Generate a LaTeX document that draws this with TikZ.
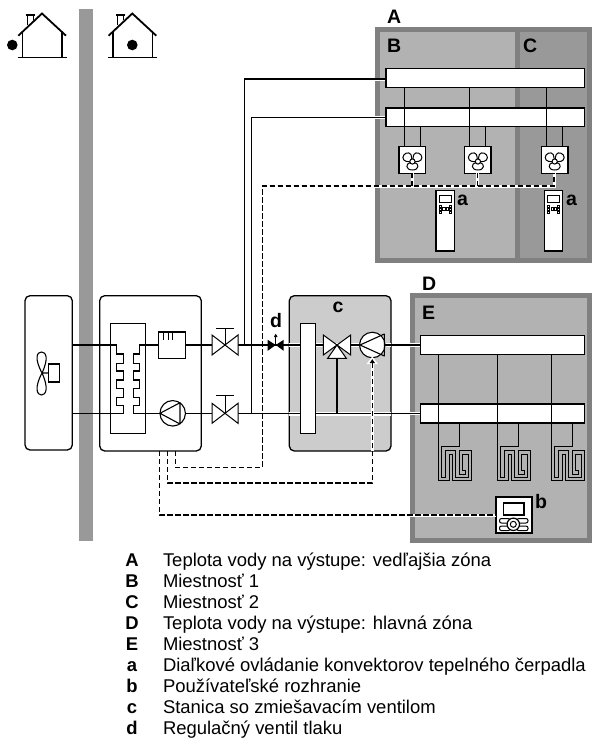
\documentclass[tikz,border=0pt]{standalone}
\usepackage{fontspec}
\setmainfont{Liberation Sans}
\usetikzlibrary{arrows.meta}
\definecolor{wallgray}{HTML}{999999}
\definecolor{edgegray}{HTML}{808080}
\definecolor{roomgray}{HTML}{B2B2B2}
\definecolor{roomdark}{HTML}{999999}
\definecolor{stationgray}{HTML}{CCCCCC}
\tikzset{
  pipe/.style={draw=black,line width=1.5pt},
  thin line/.style={draw=black,line width=1.3pt},
  halo/.style={draw=white,line width=3.4pt},
  signal/.style={draw=black,line width=1.4pt,dash pattern=on 5.2pt off 2.8pt},
  signal halo/.style={draw=white,line width=3pt},
  whitebox/.style={draw=black,fill=white,line width=1.3pt,inner sep=0pt,outer sep=0pt},
  unitbox/.style={draw=black,line width=1.3pt,rounded corners=5pt},
  big label/.style={inner sep=0pt,outer sep=0pt,anchor=base west,font=\fontsize{19.5}{20}\selectfont\bfseries},
  big mid/.style={big label,anchor=base},
  key letter/.style={inner sep=0pt,outer sep=0pt,anchor=base,font=\fontsize{18.45}{19}\selectfont\bfseries},
  key text/.style={inner sep=0pt,outer sep=0pt,anchor=base west,font=\fontsize{18.45}{19}\selectfont},
  valve/.style={draw=black,fill=white,line width=1pt,line join=miter}
}
% box by corners: name, x0, y0, x1, y1
\newcommand{\pxbox}[6][whitebox]{%
  \pgfmathsetmacro{\bw}{#5-#3}\pgfmathsetmacro{\bh}{#6-#4}%
  \node[#1,minimum width=\bw pt,minimum height=\bh pt,anchor=north west] (#2) at (#3,#4) {};}
\newcommand{\house}[1]{%
  \begin{scope}[shift={(#1,0)}]
    \draw[line width=1.2pt] (27.3,25) -- (27.3,15) (33.3,20) -- (33.3,15) (26,15) -- (34.7,15);
    \draw[line width=1.2pt] (22.7,31) -- (22.7,57.7) (62,31) -- (62,57.7);
    \draw[line width=1.2pt] (17.7,57.7) -- (66.7,57.7);
    \draw[line width=1.8pt] (18.3,35.7) -- (42,13.5) -- (66,35.7);
  \end{scope}}
\newcommand{\fanicon}[2]{%
  \begin{scope}[shift={(#1,#2)},line width=1pt]
    \draw[fill=white] (-0.5,-0.5) .. controls (-4,1) and (-9.5,0) .. (-9.5,-4) .. controls (-9.5,-8) and (-3.5,-10.5) .. (-1.5,-7) .. controls (-0.8,-5.5) and (-0.5,-3) .. (-0.5,-0.5);
    \draw[fill=white] (0.5,-0.5) .. controls (4,1) and (9.5,0) .. (9.5,-4) .. controls (9.5,-8) and (3.5,-10.5) .. (1.5,-7) .. controls (0.8,-5.5) and (0.5,-3) .. (0.5,-0.5);
    \draw[fill=white] (-2,1) .. controls (-7,2) and (-7,8.5) .. (0,8.5) .. controls (7,8.5) and (7,2) .. (2,1) -- cycle;
    \draw[fill=white] (0,0) circle (2.6);
  \end{scope}}
\newcommand{\remotea}[1]{%
  \begin{scope}[shift={(#1,0)},line width=0.9pt]
    \draw (439,195.5) rectangle (451.3,202.7);
    \foreach \yy in {205,208.2,211.4}{
      \draw (439,\yy) rectangle (441.3,\yy+2);
      \draw (449,\yy) rectangle (451.3,\yy+2);}
    \draw (442.8,207) rectangle (445,210.5);
    \draw (446,207) rectangle (448.2,210.5);
  \end{scope}}
\newcommand{\meander}[1]{%
  \begin{scope}[shift={(#1,0)}]
    \draw[line width=1.2pt,line join=miter] (0,354.3) -- (0,480.5) -- (11,480.5) -- (11,454.5) -- (14,454.5) -- (14,480.5) -- (33,480.5) -- (33,450.5) -- (21,450.5) -- (21,474.5) -- (27,474.5) -- (27,470.5) -- (24,470.5) -- (24,454.5) -- (30,454.5) -- (30,477.5) -- (17,477.5) -- (17,450.5) -- (7,450.5) -- (7,477.5) -- (3,477.5) -- (3,446.5) -- (21,446.5) -- (21,423);
  \end{scope}}
\begin{document}
\begin{tikzpicture}[x=1pt,y=-1pt]
\useasboundingbox (0,0) rectangle (592,739);
% wall
\fill[wallgray] (79,9) rectangle (93,541);
% houses
\house{0}
\house{90.3}
\fill (12.3,45) circle (5.3);
\fill (132.3,45) circle (5.3);
% room panels
\pxbox[fill=edgegray,inner sep=0pt,outer sep=0pt]{panelA}{375}{27}{592}{263}
\pxbox[fill=roomgray,inner sep=0pt,outer sep=0pt]{roomB}{380}{32}{515}{258}
\pxbox[fill=roomdark,inner sep=0pt,outer sep=0pt]{roomC}{520}{32}{587}{258}
\pxbox[fill=edgegray,inner sep=0pt,outer sep=0pt]{panelD}{410}{293}{592}{543}
\pxbox[fill=roomgray,inner sep=0pt,outer sep=0pt]{roomE}{415}{298}{587}{538}
% station and units
\pxbox[unitbox,fill=stationgray,inner sep=0pt,outer sep=0pt]{station}{289.3}{295.7}{391}{451}
\pxbox[unitbox,inner sep=0pt,outer sep=0pt]{outdoor}{25}{295.7}{72.3}{450}
\pxbox[unitbox,inner sep=0pt,outer sep=0pt]{indoor}{99.7}{295.7}{201.3}{451}
\pxbox[draw=black,line width=1.1pt,inner sep=0pt,outer sep=0pt]{hx}{110.7}{323.3}{145.7}{433.3}
% named points
\coordinate (V1) at (225,345);
\coordinate (V2) at (225,413.3);
\coordinate (DV) at (275.7,345);
\coordinate (MV) at (337,345);
\coordinate (PC) at (372.3,345);
\coordinate (PI) at (172.7,413.3);
% halos
\draw[halo] (375,79.5) -- (386,79.5) (375,117.5) -- (386,117.5);
\draw[halo] (410,345) -- (421,345) (410,413.3) -- (421,413.3);
\draw[halo] (289.3,345) -- (360,345) (385,345) -- (391,345);
\draw[halo] (289.3,413.8) -- (391,413.8);
% bars
\pxbox{barA1}{386}{68.7}{584.3}{87.3}
\pxbox{barA2}{386}{108}{584.3}{126.7}
\pxbox{barE1}{420.7}{335.3}{584.3}{354.3}
\pxbox{barE2}{420.7}{404}{584.3}{423}
\pxbox{mixbar}{300.3}{323.3}{315.7}{433.3}
% fan coils
\pxbox{fan1}{399}{146.7}{425.7}{173.3}
\pxbox{fan2}{464.7}{146.7}{491}{173.3}
\pxbox{fan3}{541.3}{146.7}{568}{173.3}
\fanicon{412.4}{161.5}
\fanicon{477.9}{161.5}
\fanicon{554.7}{161.5}
% fan coil pipes
\draw[thin line] (404.5,87.3) -- (404.5,146.7) (469.5,87.3) -- (469.5,146.7) (546.5,87.3) -- (546.5,146.7);
\draw[thin line] (420.5,126.7) -- (420.5,146.7) (485.5,126.7) -- (485.5,146.7) (562.5,126.7) -- (562.5,146.7);
% remote a
\pxbox{rema1}{436}{190.7}{454.3}{251}
\pxbox{rema2}{544.3}{190.7}{562.6}{251}
\remotea{0}
\remotea{108.3}
% floor loops
\meander{438.5}
\meander{497.5}
\meander{551.5}
% remote b
\pxbox{remb}{496}{497}{532}{533}
\draw[line width=1.2pt] (503.3,503) rectangle (524,515);
\draw[line width=1pt,rounded corners=2pt] (499.5,518.5) rectangle (510,523) (499.5,526) rectangle (510,530.7) (517,518.5) rectangle (528,523) (517,526) rectangle (528,530.7);
\draw[line width=1.2pt,fill=white] (513.3,524.3) circle (6.2);
\draw[line width=1pt] (513.3,524.3) circle (3);
% main pipes
\draw[pipe] (barA1.west |- 0,79) -- (244.5,79) -- (244.5,345);
\draw[pipe] (barA2.west |- 0,117.3) -- (251.5,117.3) -- (251.5,413.3);
\draw[pipe] (outdoor.east |- 0,345) -- (116.7,345) -- (116.7,354) -- (123.3,354) -- (123.3,363.3) -- (116.7,363.3) -- (116.7,371) -- (123.3,371) -- (123.3,380) -- (116.7,380) -- (116.7,388.3) -- (123.3,388.3) -- (123.3,397.7) -- (116.7,397.7) -- (116.7,405.7) -- (123.3,405.7) -- (123.3,413.3) -- (outdoor.east |- 0,413.3);
\draw[pipe] (158.3,345) -- (139.3,345) -- (139.3,354) -- (133.3,354) -- (133.3,363.3) -- (139.3,363.3) -- (139.3,371) -- (133.3,371) -- (133.3,380) -- (139.3,380) -- (139.3,388.3) -- (133.3,388.3) -- (133.3,397.7) -- (139.3,397.7) -- (139.3,405.7) -- (133.3,405.7) -- (133.3,413.3) -- (160,413.3);
\draw[pipe] (185.3,345) -- (V1) -- (DV) -- (mixbar.west |- 0,345);
\draw[pipe] (mixbar.east |- 0,345) -- (MV) -- (PC) -- (barE1.west |- 0,345);
\draw[pipe] (PI) -- (V2) -- (mixbar.west |- 0,413.3);
\draw[pipe] (mixbar.east |- 0,413.3) -- (barE2.west |- 0,413.3);
\draw[pipe] (MV) -- (337,413.3);
% heat exchanger side devices
\pxbox[draw=black,fill=white,line width=1.1pt,inner sep=0pt,outer sep=0pt]{tank}{158.3}{332}{185.3}{358.3}
\draw[line width=1.1pt] (163.5,332) -- (163.5,340) (168.5,332) -- (168.5,340) (172.5,332) -- (172.5,340);
% pumps
\node[draw=black,fill=white,line width=1.1pt,circle,minimum size=25.5pt,inner sep=0pt,outer sep=0pt] (pumpI) at (PI) {};
\draw[line width=1.1pt,line join=round] (160,413.3) -- (180,402.7) -- (180,424) -- cycle;
\node[draw=black,fill=white,line width=1.1pt,circle,minimum size=25.5pt,inner sep=0pt,outer sep=0pt] (pumpC) at (PC) {};
\draw[line width=1.1pt,line join=round] (360,345) -- (384.3,334) -- (384.3,356) -- cycle;
% valves
\draw[valve] (V1) -- (212,335) -- (212,355) -- cycle (V1) -- (238,335) -- (238,355) -- cycle;
\draw[valve] (V2) -- (212,403.3) -- (212,423.3) -- cycle (V2) -- (238,403.3) -- (238,423.3) -- cycle;
\draw[line width=1pt] (V1) -- (225,328) (216,328) -- (234,328);
\draw[line width=1pt] (V2) -- (225,395.5) (216,395.5) -- (234,395.5);
\draw[valve] (MV) -- (323.3,335) -- (323.3,355) -- cycle (MV) -- (350.7,335) -- (350.7,355) -- cycle (MV) -- (327.7,358.3) -- (346.3,358.3) -- cycle;
\fill (DV) -- (267.7,339.8) -- (267.7,350.8) -- cycle (DV) -- (283.7,339.8) -- (283.7,350.8) -- cycle;
\draw[line width=1pt,-{Latex[length=3.5pt,width=4pt]}] (DV) -- (275.7,333.5);
% outdoor fan
\draw[line width=1.1pt] (42,373) .. controls (34,358) and (37,352) .. (41.5,352) .. controls (46,352) and (49,358) .. (42,373) .. controls (34,388) and (37,395) .. (41.5,395) .. controls (46,395) and (49,388) .. (42,373) -- (48.3,373);
\pxbox[draw=black,line width=1.1pt,inner sep=0pt,outer sep=0pt]{motor}{48.3}{364}{59.7}{382}
% signals
\coordinate (S1) at (175.3,451);
\coordinate (S2) at (167.3,451);
\coordinate (S3) at (159.3,451);
\draw[signal halo] (375,186) -- (554,186) -- (554,173.3) (412,186) -- (412,173.3) (477.3,186) -- (477.3,173.3);
\draw[signal halo] (372.3,451) -- (372.3,362);
\draw[signal halo] (410,515) -- (496,515);
\draw[signal] (S1) -- (175.3,467.3) -- (262.3,467.3) -- (262.3,186) -- (554,186) -- (fan3.south -| 554,0);
\draw[signal] (412,186) -- (fan1.south -| 412,0);
\draw[signal] (477.3,186) -- (fan2.south -| 477.3,0);
\fill[white] (366.5,364) -- (378,364) -- (372.3,356.5) -- cycle;
\draw[signal,-{Latex[length=4pt,width=6pt]}] (S2) -- (167.3,483) -- (372.3,483) -- (372.3,359);
\draw[signal] (S3) -- (159.3,515) -- (remb.west |- 0,515);
% panel labels
\node[big label] (lA) at (387,23) {A};
\node[big label] (lB) at (387,52) {B};
\node[big label] (lC) at (523,52) {C};
\node[big label] (la1) at (457,205.7) {a};
\node[big label] (la2) at (566,205.7) {a};
\node[big label] (lD) at (422,290) {D};
\node[big label] (lE) at (422,319) {E};
\node[big label] (lb) at (535,508) {b};
\node[big mid] (lc) at (338,312) {c};
\node[big mid] (ld) at (276,327) {d};
% key
\foreach \nm/\yy/\ltr/\txt in {kA/566.7/A/Teplota vody na výstupe: vedľajšia zóna,
  kB/587.7/B/Miestnosť 1,
  kC/608.7/C/Miestnosť 2,
  kD/629.8/D/Teplota vody na výstupe: hlavná zóna,
  kE/650.8/E/Miestnosť 3,
  ka/671.8/a/Diaľkové ovládanie konvektorov tepelného čerpadla,
  kb/692.8/b/Používateľské rozhranie,
  kc/713.8/c/Stanica so zmiešavacím ventilom,
  kd/734.8/d/Regulačný ventil tlaku}{
  \node[key letter] (\nm l) at (132,\yy) {\ltr};
  \node[key text] (\nm t) at (163,\yy) {\txt};
}
\end{tikzpicture}
\end{document}
